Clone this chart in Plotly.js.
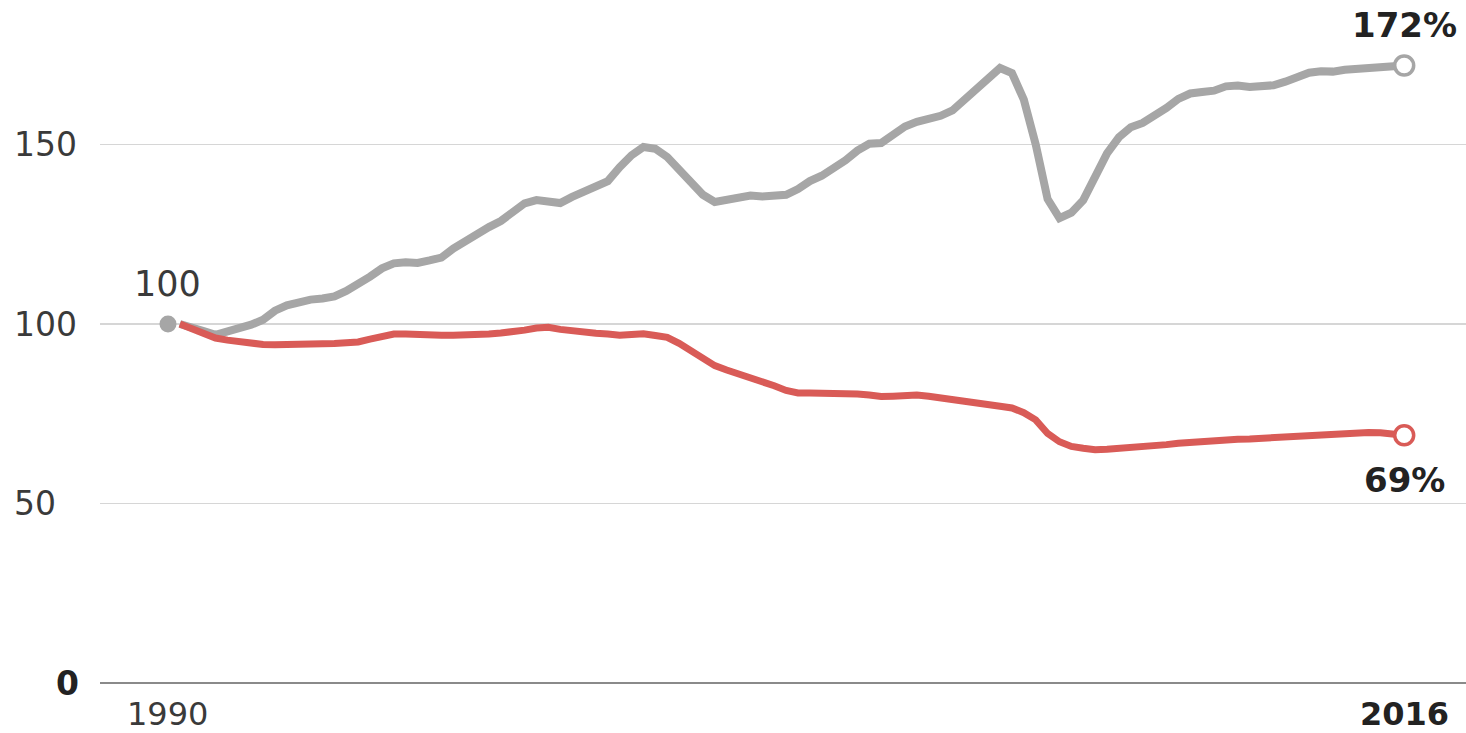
<!DOCTYPE html>
<html>
<head>
<meta charset="utf-8">
<script src="https://cdn.plot.ly/plotly-3.0.1.min.js"></script>
<style>html,body{margin:0;padding:0;background:#fff;}#chart{width:1466px;height:733px;}</style>
</head>
<body>
<div id="chart"></div>
<script>
// Quarterly index, 1990 = 100
const startYear = 1990;
const grayValues = [
  100, 99.2, 98, 97, 97.8, 98.8, 99.8, 101.2, 103.7, 105.2,
  106.1, 106.8, 107.1, 107.7, 109.2, 111, 113.2, 115.5, 116.9, 117.2,
  117, 117.7, 118.5, 121, 123.2, 124.9, 127, 128.7, 131, 133.6,
  134.5, 134.1, 133.7, 135.4, 137, 138.3, 139.8, 143.7, 147, 149.3,
  148.8, 146.5, 143.2, 139.8, 136, 134, 134.5, 135.5, 135.8, 135.5,
  135.9, 136, 137.6, 139.8, 141.3, 143.2, 145.6, 148.3, 150.2, 150.4,
  152.5, 155, 156.3, 156.9, 158, 159.5, 162.6, 165, 168.5, 171.3,
  169.9, 162.5, 150, 134.8, 129.5, 131, 134.5, 141, 147.5, 152,
  154.8, 156, 157.8, 160.2, 162.7, 164.2, 164.6, 165, 166.2, 166.4,
  166, 166.4, 166.5, 167.5, 169, 170, 170.4, 170.3, 170.8, 171,
  171, 171.2, 171.5, 172
];
const redValues = [
  100, 98.6, 97.2, 96.1, 95.5, 95, 94.5, 94.3, 94.2, 94.2,
  94.1, 94.3, 94.5, 94.6, 94.8, 95, 95.8, 96.6, 97.2, 97.2,
  97, 96.9, 96.9, 96.9, 96.9, 97, 97.2, 97.5, 97.7, 98.3,
  98.9, 99.1, 98.5, 98, 97.7, 97.4, 97.2, 96.9, 97.1, 97.3,
  96.8, 96.3, 94.6, 92.5, 90.1, 88.4, 87.2, 86.2, 85.1, 84,
  82.8, 81.5, 80.8, 80.8, 80.8, 80.8, 80.7, 80.5, 80.2, 79.8,
  79.9, 80.1, 80.2, 79.9, 79.5, 79.1, 78.5, 78.1, 77.6, 77.1,
  76.6, 75.3, 73.3, 69.5, 67.2, 65.9, 65.4, 65, 65.1, 65.3,
  65.5, 65.8, 66.1, 66.4, 66.8, 67.1, 67.3, 67.5, 67.8, 67.9,
  68, 68.2, 68.4, 68.6, 68.8, 69, 69.3, 69.5, 69.8, 69.9,
  69.8, 69.7, 69.5, 69
];
const yTickVals = [50, 100, 150];
const yTickLabels = ['50', '100', '150'];
const xLabelYears = [1990, 2016];
const xLabelTexts = ['1990', '<b>2016</b>'];
const endLabels = ['<b>172%</b>', '<b>69%</b>'];

const xs = grayValues.map((_, i) => startYear + 0.25 * (i + 1));
const endX = xs[xs.length - 1];
const gray = '#a6a6a6';
const red = '#d95b57';
const fontFam = 'DejaVu Sans, sans-serif';

const traces = [
  {x: xs, y: grayValues, type: 'scatter', mode: 'lines', line: {color: gray, width: 8}, hoverinfo: 'skip'},
  {x: xs, y: redValues, type: 'scatter', mode: 'lines', line: {color: red, width: 7}, hoverinfo: 'skip'},
  {x: [startYear], y: [100], type: 'scatter', mode: 'markers', marker: {color: gray, size: 17}, cliponaxis: false, hoverinfo: 'skip'},
  {x: [endX], y: [grayValues[grayValues.length - 1]], type: 'scatter', mode: 'markers',
   marker: {color: '#fff', size: 19, line: {color: gray, width: 3.5}}, cliponaxis: false, hoverinfo: 'skip'},
  {x: [endX], y: [redValues[redValues.length - 1]], type: 'scatter', mode: 'markers',
   marker: {color: '#fff', size: 19, line: {color: red, width: 3.5}}, cliponaxis: false, hoverinfo: 'skip'}
];

const plotW = 1366, plotH = 683, marginL = 100;
const annotations = [];
yTickVals.forEach((v, i) => {
  annotations.push({xref: 'paper', yref: 'y', x: (12 - marginL) / plotW, y: v, xanchor: 'left', yanchor: 'middle',
    text: yTickLabels[i], showarrow: false, font: {family: fontFam, size: 33, color: '#3a3a3a'}});
});
annotations.push({xref: 'paper', yref: 'y', x: (67 - marginL) / plotW, y: 0, xanchor: 'center', yanchor: 'middle',
  text: '<b>0</b>', showarrow: false, font: {family: fontFam, size: 33, color: '#222'}});
xLabelYears.forEach((yr, i) => {
  annotations.push({xref: 'x', yref: 'paper', x: yr, y: (plotH - 714) / plotH, xanchor: 'center', yanchor: 'middle',
    text: xLabelTexts[i], showarrow: false, font: {family: fontFam, size: 32, color: i === 1 ? '#222' : '#3a3a3a'}});
});
annotations.push({xref: 'x', yref: 'y', x: startYear, y: 100, yshift: 40, xanchor: 'center', yanchor: 'middle',
  text: '100', showarrow: false, font: {family: fontFam, size: 35, color: '#3a3a3a'}});
annotations.push({xref: 'x', yref: 'y', x: endX, y: grayValues[grayValues.length - 1], yshift: 41, xanchor: 'center', yanchor: 'middle',
  text: endLabels[0], showarrow: false, font: {family: fontFam, size: 34, color: '#222'}});
annotations.push({xref: 'x', yref: 'y', x: endX, y: redValues[redValues.length - 1], yshift: -45, xanchor: 'center', yanchor: 'middle',
  text: endLabels[1], showarrow: false, font: {family: fontFam, size: 34, color: '#222'}});

const layout = {
  width: 1466, height: 733,
  margin: {l: marginL, r: 0, t: 0, b: 50},
  paper_bgcolor: '#fff', plot_bgcolor: '#fff',
  showlegend: false,
  xaxis: {range: [1988.57, 2017.30], showgrid: false, zeroline: false, showticklabels: false, ticks: '', showline: false, fixedrange: true},
  yaxis: {range: [0, 190.25], tickvals: yTickVals, showgrid: true, gridcolor: '#d6d6d6', gridwidth: 1.5,
    zeroline: true, zerolinecolor: '#8a8a8a', zerolinewidth: 2.5, showticklabels: false, ticks: '', showline: false, fixedrange: true},
  annotations: annotations
};

Plotly.newPlot('chart', traces, layout, {displayModeBar: false, staticPlot: true});
</script>
</body>
</html>
